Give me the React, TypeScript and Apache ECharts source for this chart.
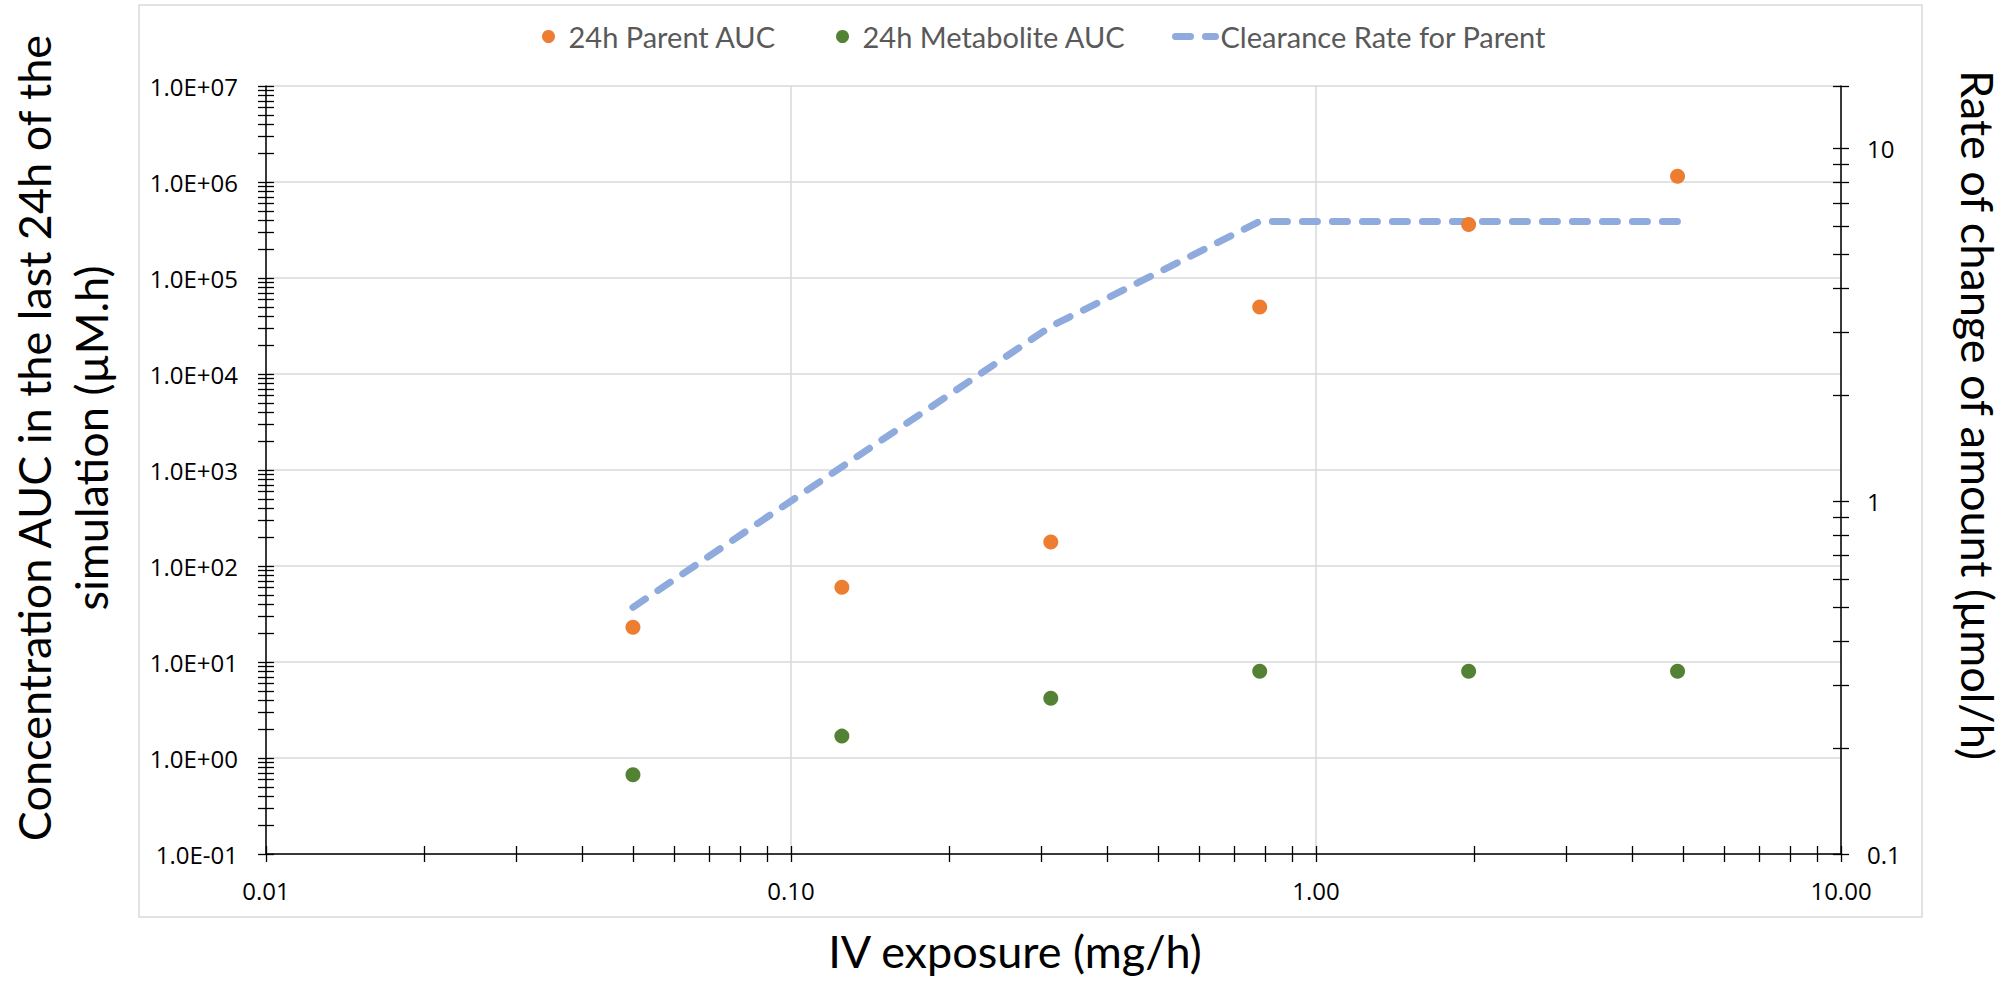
import React, { useEffect, useRef } from 'react';
import * as echarts from 'echarts';

// ---- data ----
const doses = [0.05, 0.125, 0.3125, 0.78125, 1.953125, 4.8828125];
const parentAUC = [23, 60, 178, 50000, 360000, 1150000];
const metaboliteAUC = [0.67, 1.69, 4.2, 8.0, 8.0, 8.0];
const clearanceRate = [0.5, 1.25, 3.125, 6.2, 6.2, 6.2];

const seriesNames = ['24h Parent AUC', '24h Metabolite AUC', 'Clearance Rate for Parent'];

// ---- tick labels ----
const xTickValues = [0.01, 0.1, 1, 10];
const xTickLabels = ['0.01', '0.10', '1.00', '10.00'];
const yLeftTickValues = [0.1, 1, 10, 100, 1e3, 1e4, 1e5, 1e6, 1e7];
const yLeftTickLabels = ['1.0E-01', '1.0E+00', '1.0E+01', '1.0E+02', '1.0E+03', '1.0E+04', '1.0E+05', '1.0E+06', '1.0E+07'];
const yRightTickValues = [0.1, 1, 10];
const yRightTickLabels = ['0.1', '1', '10'];

const xRange = [0.01, 10];
const yLeftRange = [0.1, 1e7];
const yRightRange = [0.1, 15];

const titles = {
  x: 'IV exposure (mg/h)',
  yLeft: 'Concentration AUC in the last 24h of the\nsimulation (µM.h)',
  yRight: 'Rate of change of amount (µmol/h)',
};

const labelFor = (values: number[], labels: string[]) => (v: number) => {
  const i = values.findIndex((t) => Math.abs(Math.log10(t) - Math.log10(v)) < 1e-6);
  return i >= 0 ? labels[i] : '';
};

// exponent positions of Excel-like log ticks (major + 2..9 minors)
const logTickExps = (lo: number, hi: number) => {
  const out: number[] = [];
  const a = Math.floor(Math.log10(lo) + 1e-9);
  const topExp = Math.log10(hi);
  for (let d = a; d < topExp; d++) {
    for (let k = 1; k <= 9; k++) {
      const e = d + Math.log10(k);
      if (e <= topExp + 1e-9) out.push(e);
    }
  }
  if (Math.abs(out[out.length - 1] - topExp) > 1e-9) out.push(topExp);
  return out;
};

const AXIS_COLOR = '#000';
const GRID_COLOR = '#D9D9D9';
const LABEL_FONT = 'Open Sans';
const TITLE_FONT = 'Lato';

const tickAxis = (range: number[], position: string, inside: boolean) => {
  const min = Math.log10(range[0]);
  const max = Math.log10(range[1]);
  return {
    type: 'value',
    gridIndex: 0,
    position,
    min,
    max,
    silent: true,
    axisLine: { show: false, onZero: false },
    axisLabel: { show: false },
    splitLine: { show: false },
    axisPointer: { show: false },
    axisTick: {
      show: true,
      inside,
      length: 8,
      customValues: logTickExps(range[0], range[1]),
      lineStyle: { color: AXIS_COLOR, width: 1.3 },
    },
  };
};

export default function App() {
  const ref = useRef<HTMLDivElement>(null);

  useEffect(() => {
    if (!ref.current) return;
    const chart = echarts.init(ref.current, undefined, { renderer: 'svg' });

    const labelStyle = { fontFamily: LABEL_FONT, fontSize: 24, color: '#000' };
    const legendText = { fontFamily: TITLE_FONT, fontSize: 29, color: '#595959' };

    const option: any = {
      animation: false,
      backgroundColor: '#fff',
      grid: { left: 266, right: 166, top: 86, bottom: 127, containLabel: false },
      legend: [
        {
          data: [seriesNames[0]],
          left: 542,
          top: 22,
          padding: 0,
          itemWidth: 30,
          itemHeight: 13,
          icon: 'circle',
          selectedMode: false,
          textStyle: legendText,
        },
        {
          data: [seriesNames[1]],
          left: 836,
          top: 22,
          padding: 0,
          itemWidth: 30,
          itemHeight: 13,
          icon: 'circle',
          selectedMode: false,
          textStyle: legendText,
        },
        {
          data: [seriesNames[2]],
          left: 1172,
          top: 22,
          padding: 0,
          itemWidth: 40,
          itemHeight: 13,
          itemGap: 0,
          selectedMode: false,
          itemStyle: { opacity: 0 },
          lineStyle: { width: 7 },
          textStyle: legendText,
        },
      ],
      xAxis: [
        {
          type: 'log',
          logBase: 10,
          gridIndex: 0,
          position: 'bottom',
          min: xRange[0],
          max: xRange[1],
          axisLine: { show: true, onZero: false, lineStyle: { color: AXIS_COLOR, width: 1.5 } },
          axisTick: { show: false },
          axisLabel: { ...labelStyle, margin: 24, formatter: labelFor(xTickValues, xTickLabels) },
          splitLine: { show: true, lineStyle: { color: GRID_COLOR, width: 1.5 } },
        },
        tickAxis(xRange, 'bottom', true),
        tickAxis(xRange, 'bottom', false),
      ],
      yAxis: [
        {
          type: 'log',
          logBase: 10,
          gridIndex: 0,
          position: 'left',
          min: yLeftRange[0],
          max: yLeftRange[1],
          axisLine: { show: true, onZero: false, lineStyle: { color: AXIS_COLOR, width: 1.5 } },
          axisTick: { show: false },
          axisLabel: { ...labelStyle, margin: 28, formatter: labelFor(yLeftTickValues, yLeftTickLabels) },
          splitLine: { show: true, lineStyle: { color: GRID_COLOR, width: 1.5 } },
        },
        {
          type: 'log',
          logBase: 10,
          gridIndex: 0,
          position: 'right',
          min: yRightRange[0],
          max: yRightRange[1],
          axisLine: { show: true, onZero: false, lineStyle: { color: AXIS_COLOR, width: 1.5 } },
          axisTick: { show: false },
          axisLabel: { ...labelStyle, margin: 26, formatter: labelFor(yRightTickValues, yRightTickLabels) },
          splitLine: { show: false },
        },
        tickAxis(yLeftRange, 'left', true),
        tickAxis(yLeftRange, 'left', false),
        tickAxis(yRightRange, 'right', true),
        tickAxis(yRightRange, 'right', false),
      ],
      series: [
        {
          name: seriesNames[2],
          type: 'line',
          xAxisIndex: 0,
          yAxisIndex: 1,
          data: doses.map((d, i) => [d, clearanceRate[i]]),
          symbol: 'none',
          showSymbol: false,
          color: '#8FAADC',
          lineStyle: { color: '#8FAADC', width: 7, type: [15, 15], cap: 'round', join: 'round' },
          z: 2,
        },
        {
          name: seriesNames[0],
          type: 'scatter',
          xAxisIndex: 0,
          yAxisIndex: 0,
          data: doses.map((d, i) => [d, parentAUC[i]]),
          symbol: 'circle',
          symbolSize: 15,
          itemStyle: { color: '#ED7D31', opacity: 1 },
          z: 3,
        },
        {
          name: seriesNames[1],
          type: 'scatter',
          xAxisIndex: 0,
          yAxisIndex: 0,
          data: doses.map((d, i) => [d, metaboliteAUC[i]]),
          symbol: 'circle',
          symbolSize: 15,
          itemStyle: { color: '#548235', opacity: 1 },
          z: 3,
        },
      ],
      graphic: [
        {
          type: 'rect',
          silent: true,
          z: -10,
          shape: { x: 139, y: 5, width: 1922 - 139, height: 917 - 5 },
          style: { fill: 'none', stroke: GRID_COLOR, lineWidth: 1.5 },
        },
        {
          type: 'text',
          silent: true,
          x: 62,
          y: 438,
          rotation: Math.PI / 2,
          style: {
            text: titles.yLeft,
            fontFamily: TITLE_FONT,
            fontSize: 45,
            lineHeight: 57,
            fill: '#000',
            align: 'center',
            verticalAlign: 'middle',
          },
        },
        {
          type: 'text',
          silent: true,
          x: 1978,
          y: 415,
          rotation: -Math.PI / 2,
          style: {
            text: titles.yRight,
            fontFamily: TITLE_FONT,
            fontSize: 45,
            fill: '#000',
            align: 'center',
            verticalAlign: 'middle',
          },
        },
        {
          type: 'text',
          silent: true,
          x: 1015,
          y: 951,
          style: {
            text: titles.x,
            fontFamily: TITLE_FONT,
            fontSize: 45,
            fill: '#000',
            align: 'center',
            verticalAlign: 'middle',
          },
        },
      ],
    };

    chart.setOption(option);
    return () => chart.dispose();
  }, []);

  return (
    <div
      ref={ref}
      style={{ position: 'fixed', left: 0, top: 0, width: 2007, height: 981, background: '#fff' }}
    />
  );
}
